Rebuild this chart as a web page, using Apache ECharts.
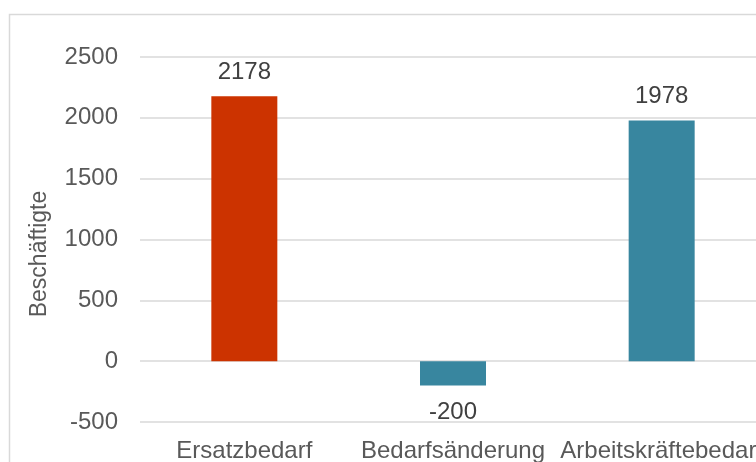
<!DOCTYPE html>
<html><head><meta charset="utf-8">
<script src="https://cdn.jsdelivr.net/npm/echarts@6/dist/echarts.min.js"></script>
<style>html,body{margin:0;padding:0;background:#fff;overflow:hidden}#c{width:766px;height:462px}</style>
</head><body><div id="c"></div>
<script>
const categories = ['Ersatzbedarf', 'Bedarfsänderung', 'Arbeitskräftebedarf'];
const values = [2178, -200, 1978];
const barColors = ['#CC3300', '#38869F', '#38869F'];
const yTicks = [-500, 0, 500, 1000, 1500, 2000, 2500];
const axisTitle = 'Beschäftigte';

const chart = echarts.init(document.getElementById('c'), null, {renderer: 'canvas'});
const font = 'Liberation Sans, Arial, sans-serif';
chart.setOption({
  animation: false,
  grid: {left: 140, right: 0, top: 57, bottom: 40, containLabel: false, outerBoundsMode: 'none'},
  graphic: [
    {type: 'rect', shape: {x: 9.5, y: 14.5, width: 900, height: 600},
     style: {fill: 'none', stroke: '#d9d9d9', lineWidth: 1.5}, silent: true, z: -1},
    {type: 'text', x: 40, y: 254, rotation: Math.PI / 2,
     style: {text: axisTitle, font: '23px ' + font, fill: '#595959', align: 'center', verticalAlign: 'middle'}}
  ],
  xAxis: {
    type: 'category', data: categories,
    axisLine: {show: false}, axisTick: {show: false},
    axisLabel: {color: '#595959', fontSize: 24, fontFamily: font, margin: 17, interval: 0}
  },
  yAxis: {
    type: 'value', min: yTicks[0], max: yTicks[yTicks.length - 1], interval: 500,
    axisLine: {show: false}, axisTick: {show: false},
    axisLabel: {color: '#595959', fontSize: 24, fontFamily: font, margin: 22, formatter: v => String(v)},
    splitLine: {lineStyle: {color: '#d9d9d9', width: 1.5}}
  },
  series: [{
    type: 'bar', barWidth: 66,
    data: values.map((v, i) => ({value: v, itemStyle: {color: barColors[i]},
      label: v >= 0 ? {position: 'top', distance: 12} : {position: 'bottom', distance: 15}})),
    label: {show: true, color: '#404040', fontSize: 24, fontFamily: font}
  }]
});
</script></body></html>
